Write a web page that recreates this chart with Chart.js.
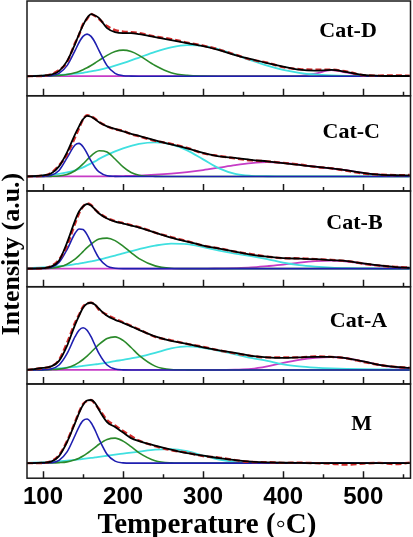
<!DOCTYPE html>
<html>
<head>
<meta charset="utf-8">
<script src="https://cdn.jsdelivr.net/npm/chart.js@4.4.1/dist/chart.umd.min.js"></script>
<style>
  html, body { margin: 0; padding: 0; background: #fff; }
  #tpd { display: block; }
</style>
</head>
<body>
<canvas id="tpd" width="413" height="537"></canvas>
<script>
// temperature grid (°C) shared by all curves
const temps = [80, 100, 110, 120, 130, 140, 145, 150, 155, 160, 165, 170, 180, 190, 200, 210, 220, 240, 260, 280, 300, 320, 340, 360, 380, 400, 420, 440, 460, 480, 500, 520, 540, 558];

// Cat-D
const dData    = [0, 0.3, 1.8, 6, 14, 33, 41, 52, 57, 62, 60, 57, 50, 46, 44.5, 44, 43, 39.5, 37, 33.5, 30.5, 26.5, 21.5, 16.5, 13.5, 9, 7, 6.5, 6.5, 4.5, 1, 0.6, 0.8, 0.4];
const dFit     = [0, 0.6, 1.5, 5, 15, 32, 42, 51, 58, 62, 60.5, 58, 48, 44, 43, 43, 42, 39, 36, 33, 30, 26, 21, 17, 13, 9.5, 6.5, 5.5, 6.3, 4, 1.2, 0.4, 0.2, 0.2];
const dBlue    = [0, 0.1, 0.5, 2.8, 10.5, 25.5, 33.6, 39.7, 42, 39.7, 33.6, 25.5, 10.5, 2.8, 0.5, 0.1, 0, 0, 0, 0, 0, 0, 0, 0, 0, 0, 0, 0, 0, 0, 0, 0, 0, 0];
const dGreen   = [0, 0.1, 0.3, 0.8, 1.7, 3.5, 4.8, 6.5, 8.4, 10.7, 13.2, 15.8, 20.8, 24.6, 26, 24.6, 20.8, 10.7, 3.5, 0.8, 0.1, 0, 0, 0, 0, 0, 0, 0, 0, 0, 0, 0, 0, 0];
const dCyan    = [0.2, 0.5, 0.8, 1.2, 1.7, 2.5, 2.9, 3.4, 4, 4.7, 5.5, 6.3, 8.2, 10.5, 13, 15.7, 18.6, 24.3, 28.7, 30.9, 30.2, 26.7, 21.5, 15.7, 10.5, 6.3, 3.4, 1.7, 0.8, 0.3, 0.1, 0, 0, 0];
const dMagenta = [0, 0, 0, 0, 0, 0, 0, 0, 0, 0, 0, 0, 0, 0, 0, 0, 0, 0, 0, 0, 0, 0, 0, 0, 0, 0, 0.3, 2.5, 6, 3.5, 0.5, 0, 0, 0];

// Cat-C
const cData    = [0, 0.8, 3.5, 11, 22, 39, 48, 57, 61, 60, 57.5, 54.5, 50, 47, 45.5, 42, 40, 35.5, 32.5, 28.5, 23, 20.5, 18, 16, 15, 13.5, 11.8, 9.5, 8.2, 5.6, 2.9, 1.9, 1.3, 1.4];
const cFit     = [0, 1, 3, 10, 24, 42, 50, 57, 60.5, 59.5, 57, 54, 50, 47.5, 45, 42.5, 40.5, 36, 32, 28, 23.5, 20, 18.5, 16.5, 15, 13.3, 11.5, 9.7, 8, 6, 3.6, 1.8, 1.2, 1];
const cBlue    = [0, 0.1, 1.1, 6, 18.5, 31.4, 33, 29.7, 23, 15.5, 9, 4.5, 0.7, 0.1, 0, 0, 0, 0, 0, 0, 0, 0, 0, 0, 0, 0, 0, 0, 0, 0, 0, 0, 0, 0];
const cGreen   = [0, 0, 0.1, 0.5, 2, 5.7, 8.8, 12.5, 16.6, 20.6, 23.8, 25.7, 24.3, 17.4, 9.5, 3.9, 1.2, 0.1, 0, 0, 0, 0, 0, 0, 0, 0, 0, 0, 0, 0, 0, 0, 0, 0];
const cCyan    = [0.2, 0.8, 1.5, 2.5, 4, 6, 7.5, 9, 11, 13, 15, 17.5, 21.5, 25, 28, 30.5, 32.5, 34, 32, 26, 17, 8, 2.5, 0.6, 0.2, 0, 0, 0, 0, 0, 0, 0, 0, 0];
const cMagenta = [0, 0, 0, 0, 0, 0, 0, 0, 0, 0, 0, 0, 0, 0.2, 0.4, 0.6, 0.9, 1.7, 2.8, 4.3, 6.3, 8.8, 11.3, 13.3, 14.3, 13.6, 11.7, 9.7, 8, 6, 3.6, 1.7, 0.8, 0.4];

// Cat-B
const bData    = [0, 0.4, 2.5, 9, 23, 45, 55, 62, 65, 63.5, 59, 55.5, 50.5, 47.5, 45.5, 43.5, 41.5, 36, 31.5, 27.5, 23, 20.3, 17, 14.5, 12, 10.5, 10.3, 9.5, 8.8, 7.5, 5, 3, 1.8, 1];
const bFit     = [0, 0.5, 2, 8, 26, 48, 57, 62, 64.5, 63, 59, 55, 50, 47, 45, 43, 41, 36, 31, 27, 23, 20, 17, 14, 12, 10.5, 10, 9.5, 8.5, 7.5, 5.3, 3.2, 1.6, 0.9];
const bBlue    = [0, 0.1, 1.2, 6.2, 19.1, 35.3, 39.6, 39.1, 34, 26, 17.5, 10.4, 2.5, 0.4, 0, 0, 0, 0, 0, 0, 0, 0, 0, 0, 0, 0, 0, 0, 0, 0, 0, 0, 0, 0];
const bGreen   = [0, 0.1, 0.5, 1.8, 4.5, 9.5, 13, 17, 21, 24.5, 27.5, 29.5, 30.5, 28, 22.5, 16, 10, 2.8, 0.4, 0, 0, 0, 0, 0, 0, 0, 0, 0, 0, 0, 0, 0, 0, 0];
const bCyan    = [0.5, 1.2, 1.7, 2.4, 3.3, 4.5, 5.1, 5.8, 6.5, 7.3, 8.1, 9, 11, 13, 15.2, 17.4, 19.5, 23, 25, 24.5, 21.5, 18, 15, 12.5, 9.5, 6, 3.5, 2, 1, 0.5, 0.3, 0.1, 0, 0];
const bMagenta = [0, 0, 0, 0, 0, 0, 0, 0, 0, 0, 0, 0, 0, 0, 0, 0, 0, 0, 0, 0, 0, 0.3, 0.6, 1.2, 2.5, 4, 6, 7.5, 8, 7, 5, 3, 1.5, 0.8];

// Cat-A
const aData    = [0, 1.8, 3.5, 10, 27, 47, 55, 63, 66.5, 67, 65, 60, 55, 51, 47.5, 44, 40.5, 33, 29.5, 26, 23, 19.5, 16.5, 14, 12.5, 12.5, 12.5, 13.5, 13, 11.5, 8, 5, 3, 2.2];
const aFit     = [0, 2, 3.5, 9, 24, 45, 54, 62, 66, 67, 65, 61, 54, 50, 47, 43.5, 40, 33.5, 29, 26, 22.5, 19.5, 17, 14, 12.5, 12, 12.5, 13, 13, 11.5, 8.5, 5, 3, 2];
const aBlue    = [0, 0.1, 0.9, 4.9, 16.2, 33.1, 39.6, 42, 39.6, 33.1, 24.6, 16.2, 4.9, 0.9, 0.1, 0, 0, 0, 0, 0, 0, 0, 0, 0, 0, 0, 0, 0, 0, 0, 0, 0, 0, 0];
const aGreen   = [0, 0.1, 0.3, 0.8, 2.2, 5.2, 7.5, 10.4, 13.8, 17.6, 21.6, 25.5, 31.4, 33, 29.4, 22.4, 14.5, 3.8, 0.5, 0.1, 0, 0, 0, 0, 0, 0, 0, 0, 0, 0, 0, 0, 0, 0];
const aCyan    = [0.2, 0.6, 1, 1.5, 2.2, 3, 3.5, 4, 4.5, 5, 5.5, 6, 7.3, 8.8, 10, 11.5, 13, 17, 21.5, 23.5, 22, 19, 15.5, 12, 9, 5.5, 3.5, 2.3, 1.5, 1, 0.7, 0.5, 0.4, 0.3];
const aMagenta = [0, 0, 0, 0, 0, 0, 0, 0, 0, 0, 0, 0, 0, 0, 0, 0, 0, 0, 0, 0, 0, 0, 0.3, 1, 3.5, 7, 10, 12, 12.8, 11.5, 8.5, 5, 2.5, 1.2];

// M
const mData    = [0, 0.2, 1.8, 8, 22, 41, 51, 59, 62, 63, 59, 54, 43, 37.5, 32, 27, 22.5, 17, 13, 10.5, 7, 5.5, 3, 1.2, 1, 0.3, 0.4, 0, -0.5, -1.5, -0.3, 0.3, -1, 0.5];
const mFit     = [0, 0.5, 1.5, 7, 21, 40, 50, 58, 62.5, 63, 60, 53, 41, 36, 30.5, 25, 22, 17.5, 13.5, 10, 7.5, 5, 3, 1.5, 0.8, 0.4, 0.2, 0.1, 0, 0, 0, 0, 0, 0];
const mBlue    = [0, 0, 0.4, 2.8, 11.2, 27.6, 36.3, 42.4, 44, 40.4, 33, 23.9, 8.8, 2, 0.3, 0, 0, 0, 0, 0, 0, 0, 0, 0, 0, 0, 0, 0, 0, 0, 0, 0, 0, 0];
const mGreen   = [0, 0, 0.1, 0.5, 1.3, 3.4, 5, 7.1, 9.7, 12.7, 15.8, 18.9, 23.6, 25, 22, 16.4, 10.3, 2.4, 0.3, 0, 0, 0, 0, 0, 0, 0, 0, 0, 0, 0, 0, 0, 0, 0];
const mCyan    = [0.2, 0.8, 1.2, 1.8, 2.5, 3.3, 3.7, 4.2, 4.7, 5.2, 5.7, 6.3, 7.4, 8.5, 9.5, 10.5, 11.5, 13.5, 14, 12, 7.5, 3.5, 1.2, 0.4, 0.1, 0, 0, 0, 0, 0, 0, 0, 0, 0];

// x axis ticks
const majorTicks = [100, 200, 300, 400, 500];
const minorTicks = [150, 250, 350, 450, 550];

// panels, bottom to top (Chart.js stacks left scales last-first)
const panels = [
    { id: "yM", name: "M",     min: -15,   max: 79,   weight: 94,   labelT: 498, labelH: 39,   series: [mFit, mData, mBlue, mGreen, mCyan, null] },
    { id: "yA", name: "Cat-A", min: -14,   max: 83,   weight: 97,   labelT: 494, labelH: 48.5, series: [aFit, aData, aBlue, aGreen, aCyan, aMagenta] },
    { id: "yB", name: "Cat-B", min: -18,   max: 77.5, weight: 95.5, labelT: 489, labelH: 45.5, series: [bFit, bData, bBlue, bGreen, bCyan, bMagenta] },
    { id: "yC", name: "Cat-C", min: -14.5, max: 80.5, weight: 95,   labelT: 485, labelH: 44,   series: [cFit, cData, cBlue, cGreen, cCyan, cMagenta] },
    { id: "yD", name: "Cat-D", min: -19.5, max: 75,   weight: 94.5, labelT: 481, labelH: 44.5, series: [dFit, dData, dBlue, dGreen, dCyan, dMagenta] },
];

// fit, data, blue, green, cyan, magenta  (first dataset is drawn on top)
const styles = [
    { color: "#000000", width: 1.8 },
    { color: "#d22b2b", width: 2.4, dash: [6, 3] },
    { color: "#1f1fb0", width: 1.6 },
    { color: "#2b8a2b", width: 1.6 },
    { color: "#40e0e0", width: 1.8 },
    { color: "#c63cc6", width: 1.8 },
];

const datasets = [];
styles.forEach((st, k) => {
    panels.forEach((p) => {
        const vals = p.series[k];
        if (!vals) return;
        datasets.push({
            data: temps.map((t, i) => ({ x: t, y: vals[i] })),
            yAxisID: p.id,
            borderColor: st.color,
            borderWidth: st.width,
            borderDash: st.dash || [],
            pointRadius: 0,
            fill: false,
            cubicInterpolationMode: "monotone",
        });
    });
});

const scales = {
    x: {
        type: "linear",
        min: 80,
        max: 559,
        grid: { display: false, drawTicks: false },
        border: { display: false },
        ticks: {
            stepSize: 100,
            includeBounds: false,
            autoSkip: false,
            maxRotation: 0,
            padding: 5,
            color: "#000",
            font: { family: "'Liberation Sans', Arial, sans-serif", size: 24, weight: "bold" },
        },
    },
};
panels.forEach((p) => {
    scales[p.id] = {
        type: "linear",
        position: "left",
        stack: "panels",
        stackWeight: p.weight,
        min: p.min,
        max: p.max,
        grid: { display: false, drawTicks: false },
        border: { display: false },
        ticks: { display: false },
    };
});

// frame, inward ticks, panel names and axis titles
const framePlugin = {
    id: "frame",
    afterDatasetsDraw(chart) {
        const ctx = chart.ctx;
        const xs = chart.scales.x;
        const { left, right } = chart.chartArea;
        ctx.save();
        ctx.strokeStyle = "#1a1a1a";
        ctx.lineWidth = 1.5;
        panels.forEach((p) => {
            const ys = chart.scales[p.id];
            ctx.strokeRect(left, ys.top, right - left, ys.bottom - ys.top);
            ctx.beginPath();
            majorTicks.forEach((t) => {
                const x = Math.round(xs.getPixelForValue(t)) + 0.5;
                ctx.moveTo(x, ys.bottom);
                ctx.lineTo(x, ys.bottom - 7);
            });
            minorTicks.forEach((t) => {
                const x = Math.round(xs.getPixelForValue(t)) + 0.5;
                ctx.moveTo(x, ys.bottom);
                ctx.lineTo(x, ys.bottom - 4);
            });
            ctx.stroke();

            ctx.fillStyle = "#000";
            ctx.font = "bold 22px 'Liberation Serif', 'Times New Roman', serif";
            ctx.textAlign = "center";
            ctx.textBaseline = "middle";
            ctx.fillText(p.name, xs.getPixelForValue(p.labelT), ys.getPixelForValue(p.labelH));
        });

        ctx.font = "bold 29px 'Liberation Serif', 'Times New Roman', serif";
        ctx.textAlign = "center";
        ctx.textBaseline = "alphabetic";
        ctx.fillText("Temperature (\u25E6C)", 207, 533);

        ctx.translate(19, 254);
        ctx.rotate(-Math.PI / 2);
        ctx.font = "bold 26px 'Liberation Serif', 'Times New Roman', serif";
        ctx.fillText("Intensity (a.u.)", 0, 0);
        ctx.restore();
    },
};

new Chart(document.getElementById("tpd"), {
    type: "line",
    data: { datasets: datasets },
    options: {
        responsive: false,
        animation: false,
        devicePixelRatio: 1,
        layout: { padding: { left: 27, right: 2.5, top: 1, bottom: 20 } },
        plugins: {
            legend: { display: false },
            tooltip: { enabled: false },
        },
        scales: scales,
    },
    plugins: [framePlugin],
});
</script>
</body>
</html>
